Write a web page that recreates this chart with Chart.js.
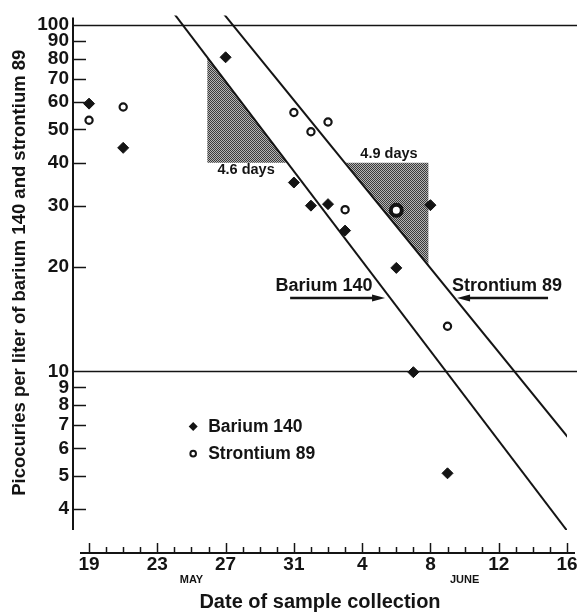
<!DOCTYPE html>
<html>
<head>
<meta charset="utf-8">
<script src="https://cdn.jsdelivr.net/npm/chart.js@4.4.1/dist/chart.umd.min.js"></script>
<style>
  html, body { margin: 0; padding: 0; background: #fff; }
  #wrap { width: 577px; height: 615px; }
</style>
</head>
<body>
<div id="wrap"><canvas id="c" width="577" height="615"></canvas></div>
<script>
// Days counted from May 19 (0 = May 19, 13 = June 1, 28 = June 16)
const xTickDays   = [0, 4, 8, 12, 16, 20, 24, 28];
const xTickLabels = ['19', '23', '27', '31', '4', '8', '12', '16'];
const monthDays   = [6, 22];
const monthLabels = ['MAY', 'JUNE'];
const yTickVals   = [4, 5, 6, 7, 8, 9, 10, 20, 30, 40, 50, 60, 70, 80, 90, 100];
const refLineVals = [10, 100];

const bariumDays    = [0, 2, 8, 12, 13, 14, 15, 18, 19, 20, 21];
const bariumVals    = [59.3, 44.2, 80.7, 35.1, 30.1, 30.4, 25.5, 19.9, 9.95, 30.2, 5.08];
const strontiumDays = [0, 2, 12, 13, 14, 15, 18, 21];
const strontiumVals = [53.1, 58.0, 55.9, 49.2, 52.5, 29.3, 29.2, 13.5];

// Decay lines, two end points each (clipped by the plot area)
const bariumFitDays    = [4, 29];
const bariumFitVals    = [124.9, 2.99];
const strontiumFitDays = [6, 29];
const strontiumFitVals = [140.2, 5.66];

// Shaded half-life triangles
const bariumTriDays    = [6.93, 6.93, 11.63, 6.93];
const bariumTriVals    = [80.6, 40, 40, 80.6];
const strontiumTriDays = [14.99, 19.88, 19.88, 14.99];
const strontiumTriVals = [40, 40, 20.2, 40];

// Text annotations and arrows
const noteTexts = ['4.6 days', '4.9 days', 'Barium 140', 'Strontium 89'];
const noteDays  = [9.2, 17.57, 13.77, 24.49];
const noteVals  = [38.2, 42.4, 17.63, 17.63];
const arrowFromDays = [11.78, 26.89];
const arrowToDays   = [17.34, 21.56];
const arrowVal      = 16.29;

const legendLabels = ['Barium 140', 'Strontium 89'];
const legendDay    = 6.1;
const legendVals   = [6.93, 5.79];

const INK = '#141414';
const FONT = '"Liberation Sans", Arial, sans-serif';

const pts = (xs, ys) => xs.map((x, i) => ({ x, y: ys[i] }));

function stipple() {
  const p = document.createElement('canvas');
  p.width = p.height = 2;
  const g = p.getContext('2d');
  g.fillStyle = '#b4b4b4'; g.fillRect(0, 0, 2, 2);
  g.fillStyle = '#3a3a3a'; g.fillRect(0, 0, 1, 1); g.fillRect(1, 1, 1, 1);
  return g.createPattern(p, 'repeat');
}
const shade = stipple();

// Horizontal reference lines at 10 and 100, drawn under the datasets
const refLines = { id: 'refLines', beforeDatasetsDraw(chart) {
  const { ctx, chartArea: a, scales: { y } } = chart;
  ctx.save();
  ctx.strokeStyle = INK; ctx.lineWidth = 1.6;
  refLineVals.forEach(v => {
    const py = Math.round(y.getPixelForValue(v)) + 0.5;
    ctx.beginPath(); ctx.moveTo(a.left, py); ctx.lineTo(chart.width, py); ctx.stroke();
  });
  ctx.restore();
}};

// Axes, ticks, month names, notes, arrows and legend
const decor = { id: 'decor', afterDraw(chart) {
  const { ctx, chartArea: a, scales: { x, y } } = chart;
  ctx.save();
  ctx.strokeStyle = INK; ctx.fillStyle = INK;

  // y axis line + short ticks
  ctx.lineWidth = 2;
  ctx.beginPath(); ctx.moveTo(a.left, a.top + 2); ctx.lineTo(a.left, a.bottom); ctx.stroke();
  ctx.lineWidth = 1.5;
  yTickVals.filter(v => !refLineVals.includes(v)).forEach(v => {
    const py = Math.round(y.getPixelForValue(v)) + 0.5;
    ctx.beginPath(); ctx.moveTo(a.left, py); ctx.lineTo(a.left + 13, py); ctx.stroke();
  });

  // x axis: detached line below the plot, ticks pointing up
  const axY = a.bottom + 23;
  ctx.lineWidth = 2;
  ctx.beginPath(); ctx.moveTo(a.left + 7, axY); ctx.lineTo(a.right + 8, axY); ctx.stroke();
  ctx.lineWidth = 1.5;
  for (let d = 0; d <= 28; d++) {
    const px = Math.round(x.getPixelForValue(d)) + 0.5;
    const h = xTickDays.includes(d) ? 10 : 6;
    ctx.beginPath(); ctx.moveTo(px, axY); ctx.lineTo(px, axY - h); ctx.stroke();
  }

  ctx.textAlign = 'center'; ctx.textBaseline = 'middle';
  ctx.font = `bold 11px ${FONT}`;
  monthLabels.forEach((m, i) => ctx.fillText(m, x.getPixelForValue(monthDays[i]), axY + 27));

  // notes
  noteTexts.forEach((t, i) => {
    ctx.font = `bold ${i < 2 ? 14.5 : 18}px ${FONT}`;
    ctx.fillText(t, x.getPixelForValue(noteDays[i]), y.getPixelForValue(noteVals[i]));
  });

  // arrows
  const ay = y.getPixelForValue(arrowVal);
  arrowFromDays.forEach((d, i) => {
    const x0 = x.getPixelForValue(d), x1 = x.getPixelForValue(arrowToDays[i]);
    const dir = Math.sign(x1 - x0);
    ctx.lineWidth = 2.5;
    ctx.beginPath(); ctx.moveTo(x0, ay); ctx.lineTo(x1 - dir * 8, ay); ctx.stroke();
    ctx.beginPath();
    ctx.moveTo(x1, ay); ctx.lineTo(x1 - dir * 13, ay - 3.5); ctx.lineTo(x1 - dir * 13, ay + 3.5);
    ctx.closePath(); ctx.fill();
  });

  // legend
  const lx = x.getPixelForValue(legendDay);
  ctx.textAlign = 'left'; ctx.font = `bold 17.5px ${FONT}`;
  legendLabels.forEach((t, i) => {
    const ly = y.getPixelForValue(legendVals[i]);
    ctx.beginPath();
    if (i === 0) {
      ctx.moveTo(lx, ly - 4.5); ctx.lineTo(lx + 4.5, ly); ctx.lineTo(lx, ly + 4.5); ctx.lineTo(lx - 4.5, ly);
      ctx.closePath(); ctx.fill();
    } else {
      ctx.lineWidth = 2; ctx.fillStyle = '#fff';
      ctx.arc(lx, ly, 2.8, 0, Math.PI * 2); ctx.fill(); ctx.stroke();
      ctx.fillStyle = INK;
    }
    ctx.fillText(t, lx + 15, ly + 1);
  });
  ctx.restore();
}};

new Chart(document.getElementById('c'), {
  type: 'line',
  data: {
    datasets: [
      { data: pts(bariumTriDays, bariumTriVals), fill: 'shape', backgroundColor: shade,
        borderWidth: 0, pointRadius: 0, order: 5 },
      { data: pts(strontiumTriDays, strontiumTriVals), fill: 'shape', backgroundColor: shade,
        borderWidth: 0, pointRadius: 0, order: 5 },
      { data: pts(bariumFitDays, bariumFitVals), borderColor: INK, borderWidth: 2,
        pointRadius: 0, fill: false, order: 3 },
      { data: pts(strontiumFitDays, strontiumFitVals), borderColor: INK, borderWidth: 2,
        pointRadius: 0, fill: false, order: 3 },
      { label: 'Barium 140', data: pts(bariumDays, bariumVals), showLine: false,
        pointStyle: 'rectRot', pointRadius: 5.5, pointBackgroundColor: INK,
        pointBorderColor: INK, pointBorderWidth: 1, order: 1 },
      { label: 'Strontium 89', data: pts(strontiumDays, strontiumVals), showLine: false,
        pointStyle: 'circle', pointBackgroundColor: '#fff', pointBorderColor: INK,
        pointRadius: c => c.dataIndex === 6 ? 5.5 : 3.6,
        pointBorderWidth: c => c.dataIndex === 6 ? 4 : 2.2, order: 1 },
    ]
  },
  options: {
    responsive: false,
    animation: false,
    layout: { padding: { top: 13, right: 10, left: 0, bottom: 0 } },
    plugins: { legend: { display: false }, tooltip: { enabled: false } },
    scales: {
      x: {
        type: 'linear', min: -0.94, max: 28,
        grid: { display: false, drawTicks: false }, border: { display: false },
        afterBuildTicks: s => { s.ticks = xTickDays.map(v => ({ value: v })); },
        // fixed height; drop the edge padding Chart.js reserves for the end labels
        afterFit: s => { s.height = 85; s.paddingLeft = 0; s.paddingRight = 0; },
        ticks: { autoSkip: false, maxRotation: 0, padding: 23, color: INK,
                 font: { family: FONT, size: 19, weight: 'bold' },
                 callback: (v, i) => xTickLabels[i] },
        title: { display: true, text: 'Date of sample collection', color: INK,
                 font: { family: FONT, size: 20, weight: 'bold' }, padding: { top: 0, bottom: 1 } }
      },
      y: {
        type: 'logarithmic', min: 3.485, max: 106.6,
        grid: { display: false, drawTicks: false }, border: { display: false },
        afterBuildTicks: s => { s.ticks = yTickVals.map(v => ({ value: v })); },
        afterFit: s => { s.width = 73; },
        ticks: { autoSkip: false, padding: 4, color: INK,
                 font: { family: FONT, size: 19, weight: 'bold' },
                 callback: v => String(v) },
        title: { display: true, text: 'Picocuries per liter of barium 140 and strontium 89', color: INK,
                 font: { family: FONT, size: 18.5, weight: 'bold' }, padding: { top: 9, bottom: 0 } }
      }
    }
  },
  plugins: [refLines, decor]
});
</script>
</body>
</html>
